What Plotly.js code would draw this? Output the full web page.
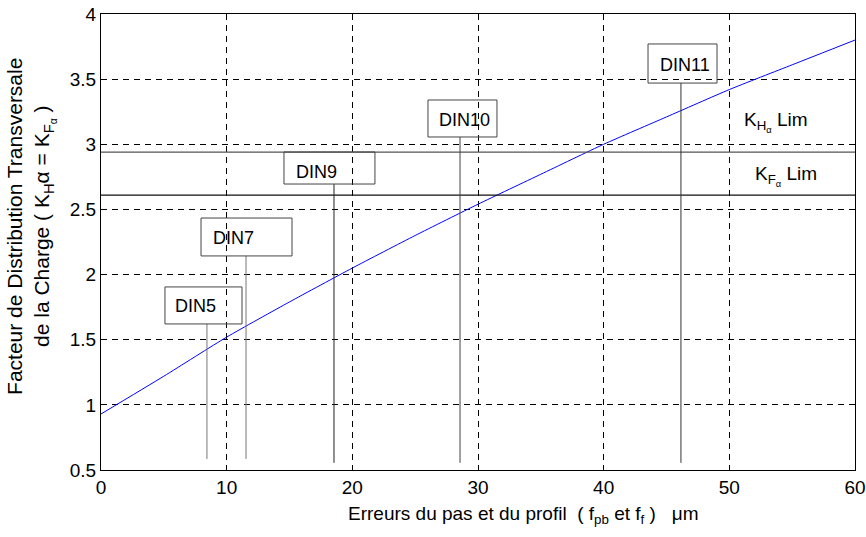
<!DOCTYPE html>
<html>
<head>
<meta charset="utf-8">
<script src="https://cdn.plot.ly/plotly-3.0.1.min.js"></script>
<style>html,body{margin:0;padding:0;background:#fff;}#chart{width:866px;height:537px;}</style>
</head>
<body>
<div id="chart"></div>
<script>
// Curve data: K factor vs profile/pitch error (µm)
const errX = [0, 5, 10, 15, 20, 25, 30, 35, 40, 45, 50, 55, 60];
const kVal = [0.93, 1.22, 1.52, 1.79, 2.05, 2.30, 2.54, 2.77, 3.00, 3.21, 3.42, 3.61, 3.80];

// Limit lines
const limNames = ['K<sub>H<sub>α</sub></sub> Lim', 'K<sub>F<sub>α</sub></sub> Lim'];
const limVals = [2.94, 2.61];

// DIN quality classes: error position and lower end of marker line
const dinNames = ['DIN5', 'DIN7', 'DIN9', 'DIN10', 'DIN11'];
const dinX = [8.43, 11.54, 18.54, 28.57, 46.15];
const dinLineBottom = [0.585, 0.585, 0.555, 0.555, 0.555];

// Tick values
const xTicks = [0, 10, 20, 30, 40, 50, 60];
const yTicks = [0.5, 1, 1.5, 2, 2.5, 3, 3.5, 4];
const yTickText = ['0.5', '1', '1.5', '2', '2.5', '3', '3.5', '4'];

// Label box geometry (data units)
const boxes = [
  {x0: 5.09, x1: 11.22, y0: 1.621, y1: 1.905, tx: 5.75, ty: 1.76, lc: '#777'},
  {x0: 7.96, x1: 15.20, y0: 2.143, y1: 2.434, tx: 8.75, ty: 2.28, lc: '#777'},
  {x0: 14.56, x1: 21.80, y0: 2.695, y1: 2.941, tx: 15.35, ty: 2.79, lc: '#222'},
  {x0: 26.02, x1: 31.51, y0: 3.056, y1: 3.34, tx: 26.70, ty: 3.19, lc: '#444'},
  {x0: 43.53, x1: 49.02, y0: 3.47, y1: 3.77, tx: 44.30, ty: 3.61, lc: '#333'}
];

const FONT = 'Liberation Sans, Arial, Helvetica, sans-serif';

const shapes = [];
const annotations = [];

// limit lines
const limColors = ['#555', '#111'];
limVals.forEach((v, i) => {
  shapes.push({type: 'line', xref: 'x', yref: 'y', x0: 0, x1: 60, y0: v, y1: v,
    line: {color: limColors[i], width: 1.2}});
});
annotations.push({xref: 'x', yref: 'y', x: 51.0, y: 3.17, xanchor: 'left', yanchor: 'middle',
  text: limNames[0], showarrow: false, font: {family: FONT, size: 19, color: '#000'}});
annotations.push({xref: 'x', yref: 'y', x: 51.9, y: 2.76, xanchor: 'left', yanchor: 'middle',
  text: limNames[1], showarrow: false, font: {family: FONT, size: 19, color: '#000'}});

dinNames.forEach((n, i) => {
  const b = boxes[i];
  shapes.push({type: 'line', xref: 'x', yref: 'y', x0: dinX[i], x1: dinX[i], y0: dinLineBottom[i], y1: b.y0,
    line: {color: b.lc, width: 1}});
  shapes.push({type: 'rect', xref: 'x', yref: 'y', x0: b.x0, x1: b.x1, y0: b.y0, y1: b.y1,
    line: {color: '#444', width: 1}, fillcolor: 'rgba(0,0,0,0)'});
  annotations.push({xref: 'x', yref: 'y', x: b.tx, y: b.ty, xanchor: 'left', yanchor: 'middle',
    text: n, showarrow: false, font: {family: FONT, size: 18, color: '#000'}});
});

// axis titles as annotations
annotations.push({xref: 'paper', yref: 'paper', x: 0.56, y: -0.098, xanchor: 'center', yanchor: 'middle',
  text: 'Erreurs du pas et du profil  ( f<sub>pb</sub> et f<sub>f</sub> )   μm', showarrow: false,
  font: {family: FONT, size: 19, color: '#000'}});
annotations.push({xref: 'paper', yref: 'paper', x: -0.093, y: 0.535, xanchor: 'center', yanchor: 'middle',
  textangle: -90, align: 'center',
  text: 'Facteur de Distribution Transversale<br>de la Charge ( K<sub>H</sub>α = K<sub>F<sub>α</sub></sub> )',
  showarrow: false, font: {family: FONT, size: 21, color: '#000'}});

const traces = [{
  type: 'scatter', mode: 'lines', x: errX, y: kVal, line: {color: '#0000ff', width: 1, shape: 'spline', smoothing: 0.6},
  hoverinfo: 'skip'
}];

const axisCommon = {
  showline: true, linecolor: '#000', linewidth: 1, mirror: 'ticks',
  ticks: 'inside', ticklen: 5, tickcolor: '#000', tickwidth: 1,
  showgrid: true, gridcolor: '#000', gridwidth: 1, griddash: '6px,5px',
  zeroline: false, tickfont: {family: FONT, size: 19, color: '#000'}
};

const layout = {
  width: 866, height: 537,
  margin: {l: 101, r: 11, t: 14, b: 67},
  paper_bgcolor: '#fff', plot_bgcolor: '#fff',
  showlegend: false,
  xaxis: Object.assign({}, axisCommon, {range: [0, 60], tickvals: xTicks, ticktext: xTicks.map(String), autorange: false}),
  yaxis: Object.assign({}, axisCommon, {range: [0.5, 4], tickvals: yTicks, ticktext: yTickText, autorange: false}),
  shapes: shapes,
  annotations: annotations
};

Plotly.newPlot('chart', traces, layout, {staticPlot: true, displayModeBar: false});
</script>
</body>
</html>
